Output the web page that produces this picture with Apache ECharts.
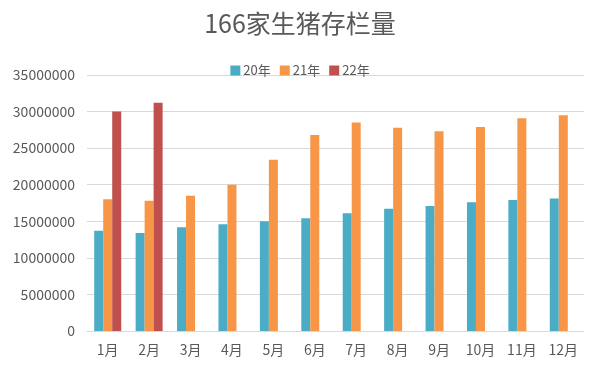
<!DOCTYPE html>
<html><head><meta charset="utf-8">
<script src="https://cdn.jsdelivr.net/npm/echarts@6/dist/echarts.min.js"></script>
<style>html,body{margin:0;padding:0;background:#fff}#c{width:600px;height:372px}</style>
</head><body><div id="c"></div>
<script>
const categories = ['1月','2月','3月','4月','5月','6月','7月','8月','9月','10月','11月','12月'];
const s20 = [13700000,13400000,14200000,14600000,15000000,15400000,16100000,16700000,17100000,17600000,17900000,18100000];
const s21 = [18000000,17800000,18500000,20000000,23400000,26800000,28500000,27800000,27300000,27900000,29100000,29500000];
const s22 = [30000000,31200000,null,null,null,null,null,null,null,null,null,null];
const seriesNames = ['20年','21年','22年'];
const colors = ['#4BACC6','#F79646','#C0504D'];
const font = '"Noto Sans CJK SC","Noto Sans",sans-serif';
const chart = echarts.init(document.getElementById('c'));
chart.setOption({
  animation:false,
  color: colors,
  title:{text:'166家生猪存栏量',left:'center',top:6,textStyle:{fontFamily:font,fontSize:25,fontWeight:'normal',color:'#595959'}},
  legend:{data:seriesNames,top:59,left:'center',itemWidth:10,itemHeight:10,itemGap:9,icon:'rect',
    textStyle:{fontFamily:font,fontSize:13,color:'#595959',padding:[0,0,0,-2]}},
  grid:{left:87,right:16,top:75,bottom:41,containLabel:false},
  xAxis:{type:'category',data:categories,
    axisLine:{lineStyle:{color:'#d9d9d9',width:1}},axisTick:{show:false},
    axisLabel:{fontFamily:font,fontSize:14,color:'#595959',margin:12}},
  yAxis:{type:'value',min:0,max:35000000,interval:5000000,
    axisLine:{show:false},axisTick:{show:false},
    splitLine:{lineStyle:{color:'#d9d9d9',width:1}},
    axisLabel:{fontFamily:font,fontSize:14,color:'#595959',margin:12,formatter:function(v){return String(v);}}},
  series:[
    {name:seriesNames[0],type:'bar',data:s20,barWidth:9,barGap:'0%'},
    {name:seriesNames[1],type:'bar',data:s21,barWidth:9,barGap:'0%'},
    {name:seriesNames[2],type:'bar',data:s22,barWidth:9,barGap:'0%'}
  ]
});
</script></body></html>
